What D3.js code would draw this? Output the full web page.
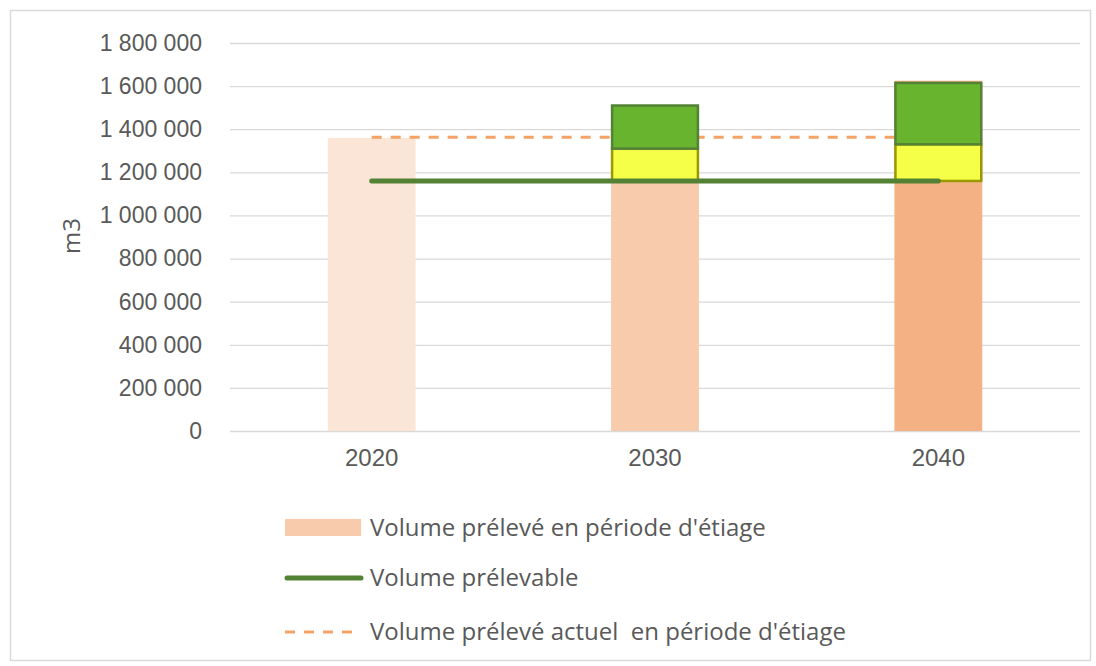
<!DOCTYPE html>
<html>
<head>
<meta charset="utf-8">
<script src="https://cdn.jsdelivr.net/npm/d3@7"></script>
<style>
  body { margin: 0; background: #fff; }
  svg { display: block; font-family: 'Open Sans', 'Noto Sans', sans-serif; }
</style>
</head>
<body>
<div id="chart"></div>
<script>
// data
let years = ['2020', '2030', '2040']
let volumeEtiage = [1360000, 1510000, 1625000]
let volumePrelevable = [1160000, 1160000, 1160000]
let volumeActuel = [1363000, 1363000, 1363000]
let partJaune = [0, 150000, 170000]
let partVerte = [0, 200000, 285000]
let yTicks = [0, 200000, 400000, 600000, 800000, 1000000, 1200000, 1400000, 1600000, 1800000]
let barColors = ['#FBE5D6', '#F8CBAD', '#F4B183']
let legendLabels = [
  'Volume prélevé en période d\'étiage',
  'Volume prélevable',
  'Volume prélevé actuel  en période d\'étiage'
]

let margin = { top: 43, left: 230, right: 16, bottom: 235 }
let totalW = 1096
let totalH = 666
let width = totalW - margin.left - margin.right
let height = totalH - margin.top - margin.bottom

let svg = d3.select('#chart')
  .append('svg')
  .attr('width', totalW)
  .attr('height', totalH)

// outer frame
svg.append('rect')
  .attr('x', 10.5).attr('y', 10.5)
  .attr('width', 1080).attr('height', 650)
  .attr('fill', 'none')
  .attr('stroke', '#D9D9D9')
  .attr('stroke-width', 1.5)

let g = svg.append('g')
  .attr('transform', `translate(${margin.left},${margin.top})`)

let xScale = d3.scaleBand().domain(years).range([0, width]).paddingInner(0.69).paddingOuter(0.345)
let yScale = d3.scaleLinear().domain([0, 1800000]).range([height, 0])

let fmt = d => d3.format(',')(d).replace(/,/g, ' ')

// gridlines + y labels
let yAxis = d3.axisLeft(yScale).tickValues(yTicks).tickSize(-width).tickFormat(fmt).tickPadding(28)
g.append('g')
  .attr('class', 'y-axis')
  .call(yAxis)
  .call(s => s.select('.domain').remove())
  .call(s => s.selectAll('line').attr('stroke', '#D9D9D9').attr('stroke-width', 1.3))
  .call(s => s.selectAll('text').attr('fill', '#595959').attr('font-size', 23))

// x labels
let xAxis = d3.axisBottom(xScale).tickSize(0).tickPadding(27)
g.append('g')
  .attr('transform', `translate(0,${height})`)
  .call(xAxis)
  .call(s => s.select('.domain').remove())
  .call(s => s.selectAll('text').attr('fill', '#595959').attr('font-size', 24).attr('dy', '0.32em'))

// y title
svg.append('text')
  .attr('transform', `translate(80,${margin.top + height / 2 - 1}) rotate(-90)`)
  .attr('text-anchor', 'middle')
  .attr('fill', '#595959')
  .attr('font-size', 24)
  .text('m3')

// base bars
g.selectAll('.bar')
  .data(years)
  .enter()
  .append('rect')
  .attr('x', d => xScale(d))
  .attr('width', xScale.bandwidth())
  .attr('y', (d, i) => yScale(volumeEtiage[i]))
  .attr('height', (d, i) => height - yScale(volumeEtiage[i]))
  .attr('fill', (d, i) => barColors[i])

let line = d3.line()
  .x(d => xScale(d.year) + xScale.bandwidth() / 2)
  .y(d => yScale(d.value))

// dashed current volume
g.append('path')
  .datum(years.map((y, i) => ({ year: y, value: volumeActuel[i] })))
  .attr('d', line)
  .attr('fill', 'none')
  .attr('stroke', '#F5A266')
  .attr('stroke-width', 3)
  .attr('stroke-dasharray', '10,9')

// stacked pieces on top of volume prélevable
let stackData = years.map((y, i) => ({ year: y, base: volumePrelevable[i], jaune: partJaune[i], verte: partVerte[i] }))
  .filter(d => d.jaune > 0)

g.selectAll('.jaune')
  .data(stackData)
  .enter()
  .append('rect')
  .attr('x', d => xScale(d.year) + 1)
  .attr('width', xScale.bandwidth() - 2)
  .attr('y', d => yScale(d.base + d.jaune))
  .attr('height', d => yScale(d.base) - yScale(d.base + d.jaune))
  .attr('fill', '#F5FF47')
  .attr('stroke', '#9A9A00')
  .attr('stroke-width', 2.5)

g.selectAll('.verte')
  .data(stackData)
  .enter()
  .append('rect')
  .attr('x', d => xScale(d.year) + 1)
  .attr('width', xScale.bandwidth() - 2)
  .attr('y', d => yScale(d.base + d.jaune + d.verte))
  .attr('height', d => yScale(d.base + d.jaune) - yScale(d.base + d.jaune + d.verte))
  .attr('fill', '#69B42F')
  .attr('stroke', '#538135')
  .attr('stroke-width', 2.5)

// volume prélevable line
g.append('path')
  .datum(years.map((y, i) => ({ year: y, value: volumePrelevable[i] })))
  .attr('d', line)
  .attr('fill', 'none')
  .attr('stroke', '#548235')
  .attr('stroke-width', 5)
  .attr('stroke-linecap', 'round')

// legend
let legend = svg.append('g').attr('transform', 'translate(285,0)')
let rows = [528, 578, 632]

legend.append('rect')
  .attr('x', 0).attr('y', rows[0] - 9)
  .attr('width', 76).attr('height', 17)
  .attr('fill', '#F8CBAD')

legend.append('line')
  .attr('x1', 2).attr('x2', 76)
  .attr('y1', rows[1]).attr('y2', rows[1])
  .attr('stroke', '#548235')
  .attr('stroke-width', 5)
  .attr('stroke-linecap', 'round')

legend.append('line')
  .attr('x1', 0).attr('x2', 76)
  .attr('y1', rows[2]).attr('y2', rows[2])
  .attr('stroke', '#F5A266')
  .attr('stroke-width', 3)
  .attr('stroke-dasharray', '10,9')

legend.selectAll('.leg-text')
  .data(legendLabels)
  .enter()
  .append('text')
  .attr('x', 85)
  .attr('y', (d, i) => rows[i])
  .attr('dy', '0.35em')
  .attr('fill', '#595959')
  .attr('font-size', 24)
  .style('white-space', 'pre')
  .text(d => d)
</script>
</body>
</html>
